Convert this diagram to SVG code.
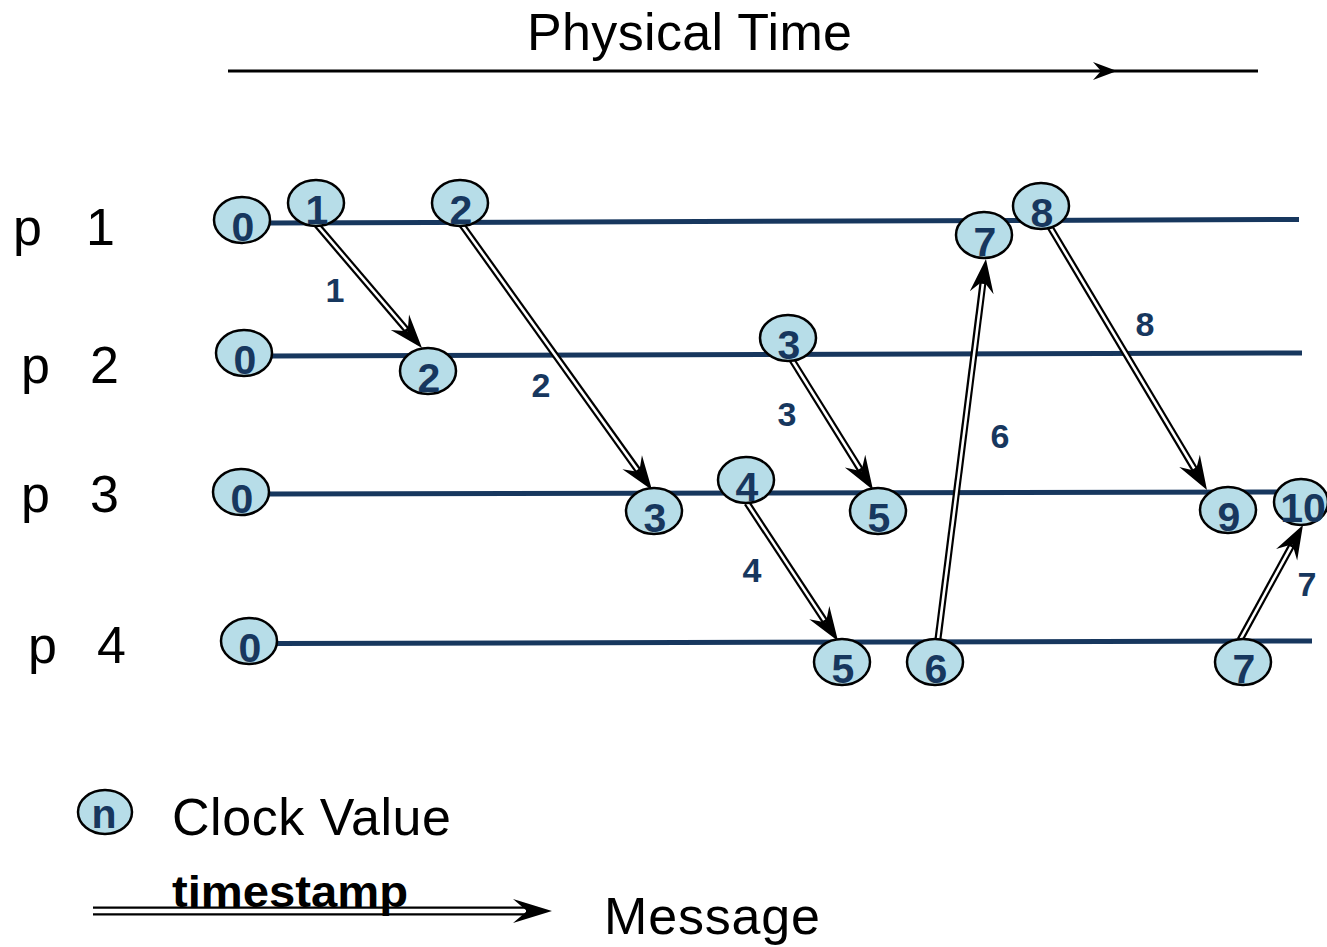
<svg xmlns="http://www.w3.org/2000/svg" width="1327" height="947" viewBox="0 0 1327 947">
<style>
.proc{stroke:#17375E;stroke-width:5;fill:none}
.nd ellipse{fill:#B7DDE8;stroke:#000;stroke-width:2.5}
.nd text{font-family:"Liberation Sans",Arial,sans-serif;font-weight:bold;font-size:41px;fill:#17375E;text-anchor:middle}
.lbl{font-family:"Liberation Sans",Arial,sans-serif;font-weight:bold;font-size:34px;fill:#17375E;text-anchor:middle}
.big{font-family:"Liberation Sans",Arial,sans-serif;font-size:52px;fill:#000}
.mo{stroke:#000;stroke-width:7;fill:none;marker-end:url(#ah)}
.mi{stroke:#fff;stroke-width:2.6;fill:none}
</style>
<defs>
<marker id="ah" markerUnits="userSpaceOnUse" orient="auto" refX="0" refY="0" markerWidth="60" markerHeight="40" viewBox="-20 -20 60 40" overflow="visible">
<path d="M22,0 L-12,-12 L0,0 L-12,12 Z" fill="#000"/>
</marker>
</defs>

<g id="title">
<text class="big" x="527" y="50" font-size="50" textLength="325">Physical Time</text>
<line x1="228" y1="71" x2="1258" y2="71" stroke="#000" stroke-width="3"/>
<path d="M1117,71 L1093,62 L1101,71 L1093,80 Z" fill="#000"/>
</g>

<g id="process-labels">
<text class="big" x="13" y="245" font-size="56">p<tspan x="86">1</tspan></text>
<text class="big" x="21" y="383" font-size="56">p<tspan x="90">2</tspan></text>
<text class="big" x="21" y="512" font-size="56">p<tspan x="90">3</tspan></text>
<text class="big" x="28" y="663" font-size="56">p<tspan x="97">4</tspan></text>
</g>

<g id="process-lines">
<line class="proc" x1="268" y1="223" x2="1299" y2="219.5"/>
<line class="proc" x1="270" y1="356" x2="1302" y2="353"/>
<line class="proc" x1="268" y1="494" x2="1282" y2="492"/>
<line class="proc" x1="276" y1="643.5" x2="1312" y2="641"/>
</g>

<g id="connectors">
<path class="mo" d="M317,225 L407.7,331.3"/><path class="mi" d="M317,225 L405.8,329"/>
<path class="mo" d="M462,225 L639.2,472.1"/><path class="mi" d="M462,225 L637.4,469.7"/>
<path class="mo" d="M792,360 L861.4,471.3"/><path class="mi" d="M792,360 L859.8,468.8"/>
<path class="mo" d="M747,503 L825.9,622.6"/><path class="mi" d="M747,503 L824.2,620.1"/>
<path class="mo" d="M938,639 L983.2,280.8"/><path class="mi" d="M938,639 L982.9,283.8"/>
<path class="mo" d="M1050,227 L1195.7,471.1"/><path class="mi" d="M1050,227 L1194.2,468.5"/>
<path class="mo" d="M1240,640 L1292.4,544.3"/><path class="mi" d="M1240,640 L1291,546.9"/>
<text class="lbl" x="335" y="302">1</text>
<text class="lbl" x="541" y="397">2</text>
<text class="lbl" x="787" y="426">3</text>
<text class="lbl" x="752" y="582">4</text>
<text class="lbl" x="1000" y="448">6</text>
<text class="lbl" x="1145" y="336">8</text>
<text class="lbl" x="1307" y="596">7</text>
</g>

<g id="p1-0" class="nd"><ellipse cx="242" cy="220" rx="28" ry="23"/><text x="243" y="241">0</text></g>
<g id="p1-1" class="nd"><ellipse cx="316" cy="203" rx="28" ry="23"/><text x="317" y="224">1</text></g>
<g id="p1-2" class="nd"><ellipse cx="460" cy="203" rx="28" ry="23"/><text x="461" y="224">2</text></g>
<g id="p1-7" class="nd"><ellipse cx="984" cy="235" rx="28" ry="23"/><text x="985" y="256">7</text></g>
<g id="p1-8" class="nd"><ellipse cx="1041" cy="206" rx="28" ry="23"/><text x="1042" y="227">8</text></g>

<g id="p2-0" class="nd"><ellipse cx="244" cy="353" rx="28" ry="23"/><text x="245" y="374">0</text></g>
<g id="p2-2" class="nd"><ellipse cx="428" cy="371" rx="28" ry="23"/><text x="429" y="392">2</text></g>
<g id="p2-3" class="nd"><ellipse cx="788" cy="338" rx="28" ry="23"/><text x="789" y="359">3</text></g>

<g id="p3-0" class="nd"><ellipse cx="241" cy="492" rx="28" ry="23"/><text x="242" y="513">0</text></g>
<g id="p3-3" class="nd"><ellipse cx="654" cy="511" rx="28" ry="23"/><text x="655" y="532">3</text></g>
<g id="p3-4" class="nd"><ellipse cx="746" cy="480" rx="28" ry="23"/><text x="747" y="501">4</text></g>
<g id="p3-5" class="nd"><ellipse cx="878" cy="511" rx="28" ry="23"/><text x="879" y="532">5</text></g>
<g id="p3-9" class="nd"><ellipse cx="1228" cy="510" rx="28" ry="23"/><text x="1229" y="531">9</text></g>
<g id="p3-10" class="nd"><ellipse cx="1301" cy="502" rx="27" ry="23"/><text x="1303" y="522" font-size="40">10</text></g>

<g id="p4-0" class="nd"><ellipse cx="249" cy="641" rx="28" ry="23"/><text x="250" y="662">0</text></g>
<g id="p4-5" class="nd"><ellipse cx="842" cy="662" rx="28" ry="23"/><text x="843" y="683">5</text></g>
<g id="p4-6" class="nd"><ellipse cx="935" cy="662" rx="28" ry="23"/><text x="936" y="683">6</text></g>
<g id="p4-7" class="nd"><ellipse cx="1243" cy="662" rx="28" ry="23"/><text x="1244" y="683">7</text></g>

<g id="legend">
<g id="legend-node" class="nd"><ellipse cx="105" cy="812" rx="27" ry="22"/><text x="104" y="828" font-size="38">n</text></g>
<text class="big" x="172" y="835" textLength="279">Clock Value</text>
<path d="M93,911 H528" stroke="#000" stroke-width="9"/>
<path d="M93,911 H526" stroke="#fff" stroke-width="4.5"/>
<path d="M552,911 L513,899 L527,911 L513,923 Z" fill="#000"/>
<text x="172" y="907" font-family="'Liberation Sans',Arial,sans-serif" font-weight="bold" font-size="44" textLength="236" lengthAdjust="spacingAndGlyphs">timestamp</text>
<text class="big" x="604" y="934" textLength="216">Message</text>
</g>
</svg>
